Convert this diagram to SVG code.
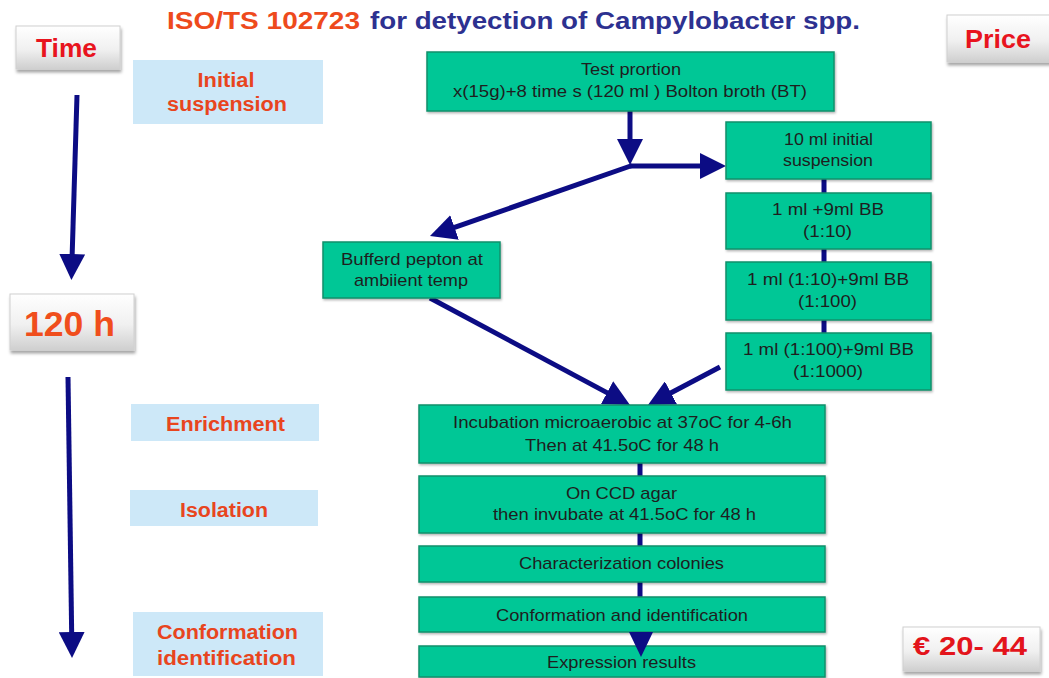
<svg xmlns="http://www.w3.org/2000/svg" width="1049" height="678" viewBox="0 0 1049 678">
<defs>
<linearGradient id="gray" x1="0" y1="0" x2="0" y2="1">
<stop offset="0" stop-color="#ffffff"/>
<stop offset="0.55" stop-color="#f0f0f0"/>
<stop offset="1" stop-color="#cfcfcf"/>
</linearGradient>
<filter id="sh" x="-10%" y="-10%" width="130%" height="140%">
<feDropShadow dx="1" dy="3" stdDeviation="1.5" flood-color="#000" flood-opacity="0.35"/>
</filter>
<filter id="gsh" x="-5%" y="-10%" width="110%" height="130%">
<feDropShadow dx="1" dy="1.5" stdDeviation="0.8" flood-color="#000" flood-opacity="0.3"/>
</filter>
<marker id="ah" markerUnits="userSpaceOnUse" markerWidth="26" markerHeight="26" refX="3" refY="13" orient="auto" viewBox="0 0 26 26">
<path d="M0,0 L26,13 L0,26 z" fill="#0c0c84"/>
</marker>
<style>
.g{fill:#06c796;stroke:#11906b;stroke-width:1.5;filter:url(#gsh)}
.b{fill:#cde8f8}
.gb{fill:url(#gray);stroke:#d0d0d0;stroke-width:1;filter:url(#sh)}
.t{font-family:"Liberation Sans",Arial,sans-serif;font-size:17px;fill:#1e1e1e;text-anchor:middle}
.l{font-family:"Liberation Sans",Arial,sans-serif;font-size:19.5px;font-weight:bold;fill:#e8451e;text-anchor:middle}
.k{font-family:"Liberation Sans",Arial,sans-serif;font-weight:bold;text-anchor:middle}
.c{stroke:#0c0c84;stroke-width:5;fill:none}
</style>
</defs>
<rect width="1049" height="678" fill="#ffffff"/>

<g id="title">
<text x="167" y="29" textLength="193" lengthAdjust="spacingAndGlyphs" style="font-family:'Liberation Sans',Arial,sans-serif;font-size:23px;font-weight:bold;fill:#ee4a1c">ISO/TS 102723</text>
<text x="370" y="29" textLength="490" lengthAdjust="spacingAndGlyphs" style="font-family:'Liberation Sans',Arial,sans-serif;font-size:23px;font-weight:bold;fill:#2d3190">for detyection of Campylobacter spp.</text>
</g>

<g id="connectors">
<line class="c" x1="77" y1="95" x2="72.1" y2="257" marker-end="url(#ah)"/>
<line class="c" x1="68" y1="377" x2="71.7" y2="635" marker-end="url(#ah)"/>
<line class="c" x1="630" y1="111" x2="630" y2="142" marker-end="url(#ah)"/>
<line x1="630" y1="166" x2="703" y2="166" class="c" marker-end="url(#ah)"/>
<line class="c" x1="632" y1="165.5" x2="451.7" y2="228.4" marker-end="url(#ah)"/>
<line class="c" x1="430" y1="298" x2="609.7" y2="394.1" marker-end="url(#ah)"/>
<line class="c" x1="720" y1="367" x2="668.3" y2="394.3" marker-end="url(#ah)"/>
<line class="c" x1="824" y1="179" x2="824" y2="334"/>
<line class="c" x1="640" y1="463" x2="640" y2="598"/>
</g>

<g id="time"><rect class="gb" x="16" y="26" width="104" height="43"/><text class="k" x="66.5" y="57" textLength="61" lengthAdjust="spacingAndGlyphs" style="font-size:25px;fill:#e8141e">Time</text></g>
<g id="price"><rect class="gb" x="947" y="15" width="110" height="47"/><text class="k" x="998" y="48" textLength="66" lengthAdjust="spacingAndGlyphs" style="font-size:26px;fill:#e8141e">Price</text></g>
<g id="h120"><rect class="gb" x="10" y="294" width="124" height="56"/><text class="k" x="69.5" y="336" textLength="91" lengthAdjust="spacingAndGlyphs" style="font-size:35px;fill:#f04e1c">120 h</text></g>
<g id="euro"><rect class="gb" x="903" y="627" width="137" height="44"/><text class="k" x="970" y="655" textLength="114" lengthAdjust="spacingAndGlyphs" style="font-size:25px;fill:#e3141b">€ 20- 44</text></g>

<g id="lbl-initial"><rect class="b" x="133" y="60" width="190" height="64"/><text class="l" x="226" y="87" textLength="57" lengthAdjust="spacingAndGlyphs">Initial</text><text class="l" x="227" y="111" textLength="120" lengthAdjust="spacingAndGlyphs">suspension</text></g>
<g id="lbl-enrichment"><rect class="b" x="131" y="404" width="188" height="37"/><text class="l" x="225.5" y="431" textLength="119" lengthAdjust="spacingAndGlyphs">Enrichment</text></g>
<g id="lbl-isolation"><rect class="b" x="130" y="490" width="188" height="36"/><text class="l" x="224" y="517" textLength="88" lengthAdjust="spacingAndGlyphs">Isolation</text></g>
<g id="lbl-conf"><rect class="b" x="133" y="612" width="190" height="64"/><text class="l" x="227.5" y="639" textLength="141" lengthAdjust="spacingAndGlyphs">Conformation</text><text class="l" x="226.5" y="665" textLength="139" lengthAdjust="spacingAndGlyphs">identification</text></g>

<g id="test"><rect class="g" x="427" y="52" width="407" height="59"/><text class="t" x="631" y="75" textLength="100" lengthAdjust="spacingAndGlyphs">Test prortion</text><text class="t" x="630" y="97" textLength="354" lengthAdjust="spacingAndGlyphs">x(15g)+8 time s (120 ml ) Bolton broth (BT)</text></g>
<g id="s10"><rect class="g" x="726" y="122" width="205" height="57"/><text class="t" x="828.5" y="145" textLength="89" lengthAdjust="spacingAndGlyphs">10 ml initial</text><text class="t" x="828" y="166" textLength="90" lengthAdjust="spacingAndGlyphs">suspension</text></g>
<g id="d1"><rect class="g" x="726" y="193" width="205" height="56"/><text class="t" x="828" y="215" textLength="112" lengthAdjust="spacingAndGlyphs">1 ml  +9ml BB</text><text class="t" x="827.5" y="237" textLength="49" lengthAdjust="spacingAndGlyphs">(1:10)</text></g>
<g id="d2"><rect class="g" x="726" y="262" width="205" height="58"/><text class="t" x="828" y="285" textLength="162" lengthAdjust="spacingAndGlyphs">1 ml  (1:10)+9ml BB</text><text class="t" x="827.5" y="307" textLength="59" lengthAdjust="spacingAndGlyphs">(1:100)</text></g>
<g id="d3"><rect class="g" x="726" y="333" width="205" height="57"/><text class="t" x="828.5" y="355" textLength="171" lengthAdjust="spacingAndGlyphs">1 ml  (1:100)+9ml BB</text><text class="t" x="828" y="377" textLength="70" lengthAdjust="spacingAndGlyphs">(1:1000)</text></g>
<g id="buffered"><rect class="g" x="323" y="242" width="177" height="56"/><text class="t" x="412" y="265" textLength="142" lengthAdjust="spacingAndGlyphs">Bufferd pepton at</text><text class="t" x="411" y="286" textLength="114" lengthAdjust="spacingAndGlyphs">ambiient temp</text></g>
<g id="incubation"><rect class="g" x="419" y="405" width="406" height="58"/><text class="t" x="622.5" y="428" textLength="339" lengthAdjust="spacingAndGlyphs">Incubation microaerobic  at 37oC for 4-6h</text><text class="t" x="622" y="451" textLength="194" lengthAdjust="spacingAndGlyphs">Then at 41.5oC for 48 h</text></g>
<g id="isolation"><rect class="g" x="419" y="476" width="406" height="57"/><text class="t" x="621.5" y="499" textLength="111" lengthAdjust="spacingAndGlyphs">On CCD agar</text><text class="t" x="624.5" y="520" textLength="263" lengthAdjust="spacingAndGlyphs">then invubate  at 41.5oC for 48 h</text></g>
<g id="characterization"><rect class="g" x="419" y="546" width="406" height="36"/><text class="t" x="621.5" y="569" textLength="205" lengthAdjust="spacingAndGlyphs">Characterization  colonies</text></g>
<g id="conformation"><rect class="g" x="419" y="597" width="406" height="35"/><text class="t" x="622" y="621" textLength="252" lengthAdjust="spacingAndGlyphs">Conformation  and  identification</text></g>
<g id="expression"><rect class="g" x="419" y="646" width="406" height="31"/><text class="t" x="621.5" y="668" textLength="149" lengthAdjust="spacingAndGlyphs">Expression  results</text></g>
<g id="final-arrow"><path d="M629,632 L653,632 L641,657 z" fill="#0c0c84"/></g>
</svg>
